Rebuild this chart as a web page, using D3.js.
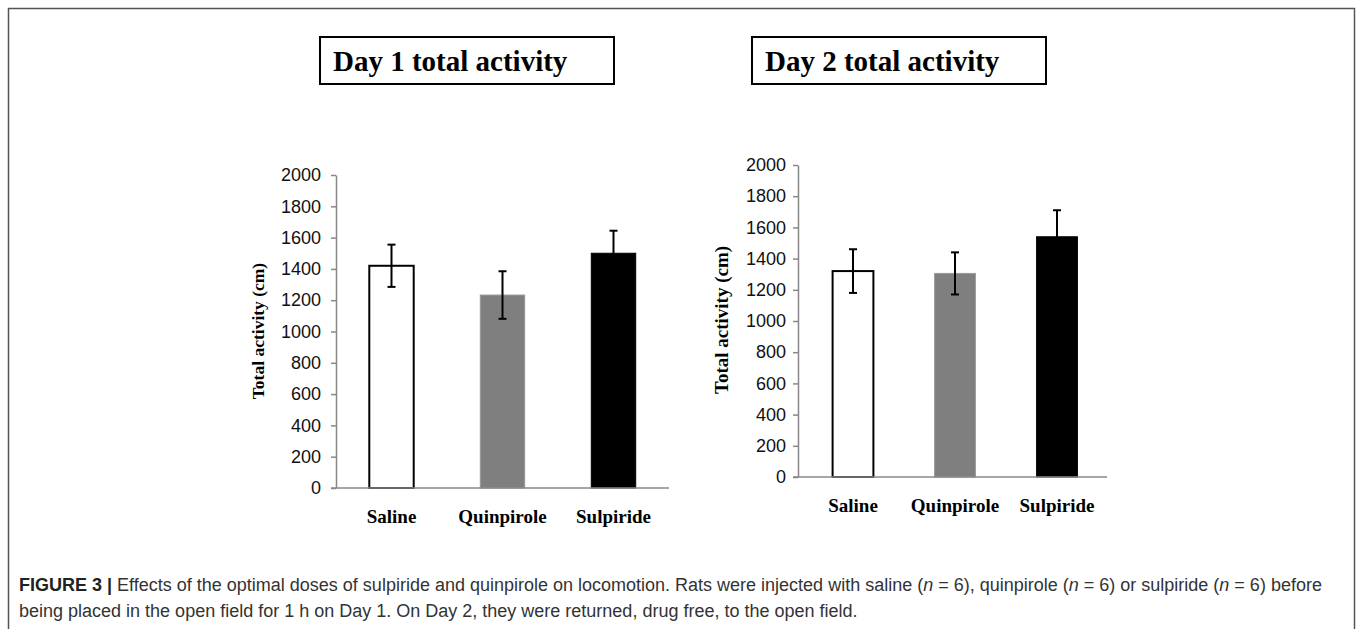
<!DOCTYPE html>
<html>
<head>
<meta charset="utf-8">
<script src="https://cdn.jsdelivr.net/npm/d3@7"></script>
<style>
  body { margin: 0; background: #fff; }
  svg { display: block; }
</style>
</head>
<body>
<div id="chart"></div>
<script>
// 三組處理
var categories = ['Saline', 'Quinpirole', 'Sulpiride'];
var barColors = ['#ffffff', '#7f7f7f', '#000000'];

// 第一天、第二天的平均值與誤差
var day1Values = [1420, 1233, 1500];
var day1Errors = [135, 152, 144];
var day2Values = [1320, 1305, 1540];
var day2Errors = [140, 135, 170];

var yTicks = [0, 200, 400, 600, 800, 1000, 1200, 1400, 1600, 1800, 2000];

var width = 1358;
var height = 629;

var svg = d3.select('#chart')
            .append('svg')
            .attr('width', width)
            .attr('height', height);

// 外框（下方超出畫面）
svg.append('rect')
   .attr('x', 8.5).attr('y', 8.5)
   .attr('width', 1346).attr('height', 700)
   .attr('fill', 'none')
   .attr('stroke', '#555')
   .attr('stroke-width', 1.5);

/**
 * 畫一張長條圖
 * p: 位置設定
 */
function drawPanel(p, values, errors, title){

    // 標題框
    svg.append('rect')
       .attr('x', p.boxX).attr('y', 37)
       .attr('width', 294).attr('height', 47)
       .attr('fill', 'none')
       .attr('stroke', '#000')
       .attr('stroke-width', 2);
    svg.append('text')
       .attr('x', p.boxX + 13).attr('y', 71)
       .style('font-family', '"Liberation Serif", "Times New Roman", serif')
       .style('font-weight', 'bold')
       .style('font-size', '29px')
       .text(title);

    var x = d3.scaleBand()
              .domain(categories)
              .range([p.bandLeft, p.bandRight])
              .paddingInner(0.6)
              .paddingOuter(0.3);

    var y = d3.scaleLinear()
              .domain([0, 2000])
              .range([p.bottom, p.top]);

    var g = svg.append('g');

    // y 軸
    var yAxis = g.append('g')
       .attr('transform', 'translate(' + p.axisX + ',0)')
       .call(d3.axisLeft(y).tickValues(yTicks).tickFormat(d3.format('d'))
               .tickSize(5).tickSizeOuter(0).tickPadding(p.tickPad));
    yAxis.select('.domain').attr('stroke', '#888').attr('stroke-width', 1.5);
    yAxis.selectAll('.tick line').attr('stroke', '#888').attr('stroke-width', 1.5);
    yAxis.selectAll('.tick text')
         .attr('fill', '#111')
         .style('font-family', '"Liberation Sans", Arial, sans-serif')
         .style('font-size', '18px');

    // 長條
    g.selectAll('rect.bar')
     .data(values)
     .enter()
     .append('rect')
     .attr('class', 'bar')
     .attr('x', function(d, i){ return x(categories[i]); })
     .attr('y', function(d){ return y(d); })
     .attr('width', x.bandwidth())
     .attr('height', function(d){ return y(0) - y(d); })
     .attr('fill', function(d, i){ return barColors[i]; })
     .attr('stroke', function(d, i){ return i == 1 ? '#999' : '#000'; })
     .attr('stroke-width', function(d, i){ return i == 0 ? 2 : 1; });

    // x 軸線
    g.append('line')
     .attr('x1', p.axisX - 5).attr('x2', p.axisRight)
     .attr('y1', y(0)).attr('y2', y(0))
     .attr('stroke', '#888')
     .attr('stroke-width', 1.5);

    // 誤差線
    values.forEach(function(v, i){
        var cx = x(categories[i]) + x.bandwidth() / 2;
        var hi = y(v + errors[i]);
        var lo = y(v - errors[i]);
        g.append('line')
         .attr('x1', cx).attr('x2', cx).attr('y1', hi).attr('y2', lo)
         .attr('stroke', '#000').attr('stroke-width', 2);
        [hi, lo].forEach(function(yy){
            g.append('line')
             .attr('x1', cx - 4).attr('x2', cx + 4).attr('y1', yy).attr('y2', yy)
             .attr('stroke', '#000').attr('stroke-width', 2);
        });
    });

    // 類別標籤
    g.selectAll('text.cat')
     .data(categories)
     .enter()
     .append('text')
     .attr('class', 'cat')
     .attr('x', function(d){ return x(d) + x.bandwidth() / 2; })
     .attr('y', p.catY)
     .attr('text-anchor', 'middle')
     .style('font-family', '"Liberation Serif", "Times New Roman", serif')
     .style('font-weight', 'bold')
     .style('font-size', '19px')
     .text(function(d){ return d; });

    // y 軸標題
    g.append('text')
     .attr('transform', 'translate(' + p.labelX + ',' + p.labelY + ') rotate(-90)')
     .attr('text-anchor', 'middle')
     .style('font-family', '"Liberation Serif", "Times New Roman", serif')
     .style('font-weight', 'bold')
     .style('font-size', p.labelSize)
     .text('Total activity (cm)');
}

drawPanel({boxX: 320, bandLeft: 336, bandRight: 669, axisX: 336, axisRight: 669,
           top: 175, bottom: 488, tickPad: 10, catY: 523, labelX: 264, labelY: 331, labelSize: '17.5px'},
          day1Values, day1Errors, 'Day 1 total activity');

drawPanel({boxX: 752, bandLeft: 802, bandRight: 1108, axisX: 798, axisRight: 1107,
           top: 165, bottom: 477, tickPad: 7, catY: 512, labelX: 728, labelY: 320, labelSize: '19px'},
          day2Values, day2Errors, 'Day 2 total activity');

// 圖說
var caption = svg.append('g')
                 .style('font-family', '"Liberation Sans", Arial, sans-serif')
                 .style('font-size', '18px')
                 .attr('fill', '#333');

var line1 = caption.append('text').attr('x', 19).attr('y', 591);
line1.append('tspan').style('font-weight', 'bold').attr('fill', '#222').text('FIGURE 3 | ');
line1.append('tspan').text('Effects of the optimal doses of sulpiride and quinpirole on locomotion. Rats were injected with saline (');
line1.append('tspan').style('font-style', 'italic').text('n');
line1.append('tspan').text(' = 6), quinpirole (');
line1.append('tspan').style('font-style', 'italic').text('n');
line1.append('tspan').text(' = 6) or sulpiride (');
line1.append('tspan').style('font-style', 'italic').text('n');
line1.append('tspan').text(' = 6) before');

caption.append('text').attr('x', 19).attr('y', 617)
       .text('being placed in the open field for 1 h on Day 1. On Day 2, they were returned, drug free, to the open field.');
</script>
</body>
</html>
